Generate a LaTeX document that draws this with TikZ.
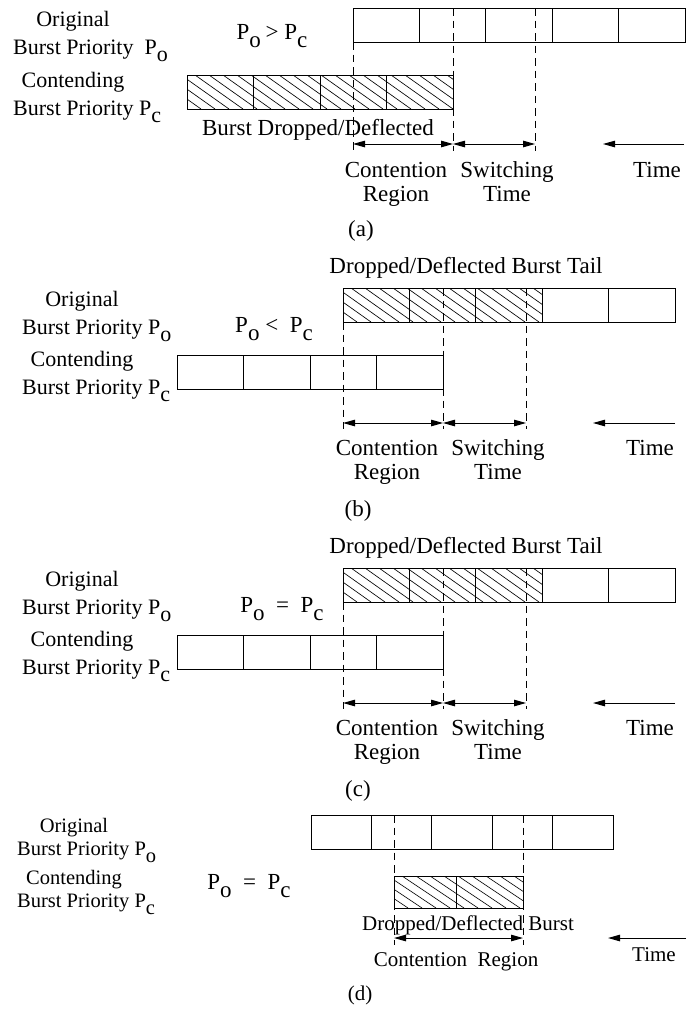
\documentclass[tikz,border=0pt]{standalone}
\usepackage{fontspec}
\setmainfont{Liberation Serif}
\usetikzlibrary{arrows.meta}
\newcommand{\lowsub}[1]{\raisebox{-0.36em}{#1}}
\newcommand{\hatchrect}[4]{%
  \begin{scope}
    \clip (#1,#2) rectangle (#3,#4);
    \foreach \k in {0,...,24}{\draw[hatchline] ({#1+\k*14-48},#2) -- ({#1+\k*14},#4);}
  \end{scope}}
\newcommand{\panelBC}[5]{%
\begin{scope}[shift={(0,#1)}]
  \node[txt] (#2tail) at (466,273) {Dropped/Deflected Burst Tail};
  \hatchrect{343}{288}{542.2}{322}
  \draw[box] (343,288) rectangle (675,322);
  \foreach \x in {409.4,475.8,542.2,608.6} \draw[box] (\x,288) -- (\x,322);
  \draw[box] (177,355) rectangle (443,389);
  \foreach \x in {243.5,310,376.5} \draw[box] (\x,355) -- (\x,389);
  \draw[dsh] (343,322) -- (343,429);
  \draw[dsh] (443,288) -- (443,429);
  \draw[dsh] (526,288) -- (526,429);
  \coordinate (#2c1) at (343,423);
  \coordinate (#2c2) at (443,423);
  \coordinate (#2c3) at (526,423);
  \coordinate (#2t1) at (675,423);
  \coordinate (#2t2) at (593,423);
  \draw[dbl] (#2c1) -- (#2c2);
  \draw[dbl] (#2c2) -- (#2c3);
  \draw[tarr] (#2t1) -- (#2t2);
  \node[lbl] (#2orig) at (82,306) {Original};
  \node[lblw] (#2bpo) at (22,334) {Burst Priority P\lowsub{o}};
  \node[lbl] (#2cont) at (82,366) {Contending};
  \node[lblw] (#2bpc) at (22,394) {Burst Priority P\lowsub{c}};
  \node[txt] (#2rel) at (#4,332) {#3};
  \node[txt] (#2cr1) at (387,455) {Contention};
  \node[txt] (#2cr2) at (387,479) {Region};
  \node[txt] (#2sw1) at (498,455) {Switching};
  \node[txt] (#2sw2) at (498,479) {Time};
  \node[txt] (#2time) at (650,455) {Time};
  \node[txt] (#2cap) at (358,516) {#5};
\end{scope}}

\begin{document}
\begin{tikzpicture}[x=1pt,y=-1pt,
  box/.style={draw, line width=1pt},
  dsh/.style={draw, line width=0.75pt, dash pattern=on 7.5pt off 5pt},
  dbl/.style={line width=1pt, {Triangle[length=12pt,width=6.5pt]}-{Triangle[length=12pt,width=6.5pt]}},
  tarr/.style={line width=1pt, -{Triangle[length=12pt,width=6.5pt]}},
  lbl/.style={font=\fontsize{22}{22}\selectfont, inner sep=0pt, anchor=base},
  lblw/.style={lbl, anchor=base west},
  txt/.style={font=\fontsize{23}{23}\selectfont, inner sep=0pt, anchor=base},
  dlbl/.style={font=\fontsize{20.5}{20.5}\selectfont, inner sep=0pt, anchor=base},
  dlblw/.style={dlbl, anchor=base west},
  dtxt/.style={font=\fontsize{21}{21}\selectfont, inner sep=0pt, anchor=base},
  hatchline/.style={line width=0.65pt},
]
\useasboundingbox (0,0) rectangle (696,1009);

% ---------- panel (a)
\draw[box] (353,8) rectangle (685,42);
\foreach \x in {419.4,485.8,552.2,618.6} \draw[box] (\x,8) -- (\x,42);
\hatchrect{187}{75}{453}{109}
\draw[box] (187,75) rectangle (453,109);
\foreach \x in {253.5,320,386.5} \draw[box] (\x,75) -- (\x,109);
\draw[dsh] (353,42) -- (353,151);
\draw[dsh] (453,8) -- (453,151);
\draw[dsh] (535,8) -- (535,151);
\coordinate (a1) at (353,144);
\coordinate (a2) at (453,144);
\coordinate (a3) at (535,144);
\coordinate (at1) at (684,144);
\coordinate (at2) at (603,144);
\draw[dbl] (a1) -- (a2);
\draw[dbl] (a2) -- (a3);
\draw[tarr] (at1) -- (at2);
\node[lbl] (aorig) at (73,26) {Original};
\node[lblw] (abpo) at (13,54) {Burst Priority\ \ P\lowsub{o}};
\node[lbl] (acont) at (73,87) {Contending};
\node[lblw] (abpc) at (13,115) {Burst Priority P\lowsub{c}};
\node[txt] (arel) at (272,39) {P\lowsub{o} \kern-1pt> P\lowsub{c}};
\node[txt] (adrop) at (318,135) {Burst Dropped/Deflected};
\node[txt] (acr1) at (396,177) {Contention};
\node[txt] (acr2) at (396,201) {Region};
\node[txt] (asw1) at (507,177) {Switching};
\node[txt] (asw2) at (507,201) {Time};
\node[txt] (atime) at (657,177) {Time};
\node[txt] (acap) at (361,236) {(a)};

% ---------- panels (b) and (c)
\panelBC{0}{b}{P\lowsub{o} <\ \ P\lowsub{c}}{274}{(b)}
\panelBC{280}{c}{P\lowsub{o}\ \ =\ \ P\lowsub{c}}{282}{(c)}

% ---------- panel (d)
\draw[box] (311,815) rectangle (613,849);
\foreach \x in {371.4,431.8,492.2,552.6} \draw[box] (\x,815) -- (\x,849);
\hatchrect{394}{876}{523}{908}
\draw[box] (394,876) rectangle (523,908);
\draw[box] (456,876) -- (456,908);
\draw[dsh] (394,815) -- (394,945);
\draw[dsh] (523,815) -- (523,945);
\coordinate (d1) at (394,938);
\coordinate (d2) at (523,938);
\coordinate (dt1) at (686,938);
\coordinate (dt2) at (608,938);
\draw[dbl] (d1) -- (d2);
\draw[tarr] (dt1) -- (dt2);
\node[dlbl] (dorig) at (74,832) {Original};
\node[dlblw] (dbpo) at (17,855) {Burst Priority P\lowsub{o}};
\node[dlbl] (dcont) at (74,884) {Contending};
\node[dlblw] (dbpc) at (17,907) {Burst Priority P\lowsub{c}};
\node[txt] (drel) at (249,889) {P\lowsub{o}\ \ =\ \ P\lowsub{c}};
\node[dtxt] (ddrop) at (468,930) {Dropped/Deflected Burst};
\node[dtxt] (dcr) at (456,966) {Contention\ \ Region};
\node[dtxt] (dtime) at (654,961) {Time};
\node[dtxt] (dcap) at (360,1000) {(d)};
\end{tikzpicture}
\end{document}
